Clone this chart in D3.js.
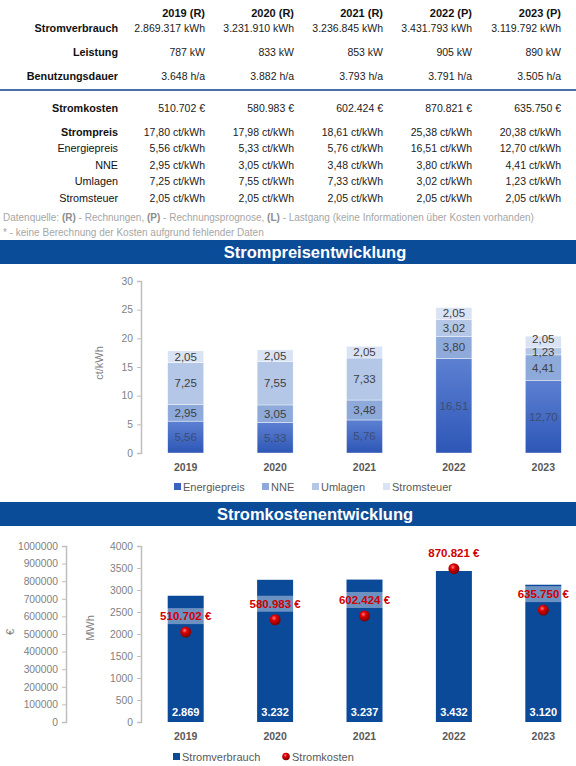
<!DOCTYPE html>
<html>
<head>
<meta charset="utf-8">
<script src="https://cdn.jsdelivr.net/npm/d3@7"></script>
<style>
  body { margin: 0; background: #fff; }
  svg { display: block; font-family: "Liberation Sans", Arial, sans-serif; }
</style>
</head>
<body>
<svg id="chart"></svg>
<script>
// years and data source flags
var years = ["2019", "2020", "2021", "2022", "2023"];
var yearFlags = ["R", "R", "R", "P", "P"];

// table values
var verbrauchKWh = [2869317, 3231910, 3236845, 3431793, 3119792];
var leistungKW = [787, 833, 853, 905, 890];
var benutzungsdauer = [3648, 3882, 3793, 3791, 3505];
var stromkosten = [510702, 580983, 602424, 870821, 635750];
var strompreis = [17.80, 17.98, 18.61, 25.38, 20.38];

// price components ct/kWh
var energiepreis = [5.56, 5.33, 5.76, 16.51, 12.70];
var nne = [2.95, 3.05, 3.48, 3.80, 4.41];
var umlagen = [7.25, 7.55, 7.33, 3.02, 1.23];
var stromsteuer = [2.05, 2.05, 2.05, 2.05, 2.05];

var priceKeys = ["Energiepreis", "NNE", "Umlagen", "Stromsteuer"];
var priceTicks = [0, 5, 10, 15, 20, 25, 30];
var euroTicks = [0, 100000, 200000, 300000, 400000, 500000, 600000, 700000, 800000, 900000, 1000000];
var mwhTicks = [0, 500, 1000, 1500, 2000, 2500, 3000, 3500, 4000];

var svgWidth = 576, svgHeight = 766;
var svg = d3.select("#chart").attr("width", svgWidth).attr("height", svgHeight);

// german number formats
var de = d3.formatLocale({decimal: ",", thousands: ".", grouping: [3], currency: ["", " €"]});
var fInt = de.format(",.0f");
var f2 = de.format(",.2f");

var grey = "#595959";

//---------------- table ----------------
var colX = d3.scalePoint().domain(years).range([205, 561]);
var labelX = 118;

svg.selectAll(".yearHead").data(years).enter().append("text")
    .attr("x", function(d) { return colX(d); })
    .attr("y", 17)
    .attr("text-anchor", "end")
    .attr("font-size", 11).attr("font-weight", "bold").attr("fill", "#111")
    .text(function(d, i) { return d + " (" + yearFlags[i] + ")"; });

var rows = [
  {label: "Stromverbrauch", bold: true, y: 32, values: verbrauchKWh, fmt: function(v) { return fInt(v) + " kWh"; }},
  {label: "Leistung", bold: true, y: 56, values: leistungKW, fmt: function(v) { return fInt(v) + " kW"; }},
  {label: "Benutzungsdauer", bold: true, y: 80, values: benutzungsdauer, fmt: function(v) { return fInt(v) + " h/a"; }},
  {label: "Stromkosten", bold: true, y: 112, values: stromkosten, fmt: function(v) { return fInt(v) + " €"; }},
  {label: "Strompreis", bold: true, y: 135.5, values: strompreis, fmt: function(v) { return f2(v) + " ct/kWh"; }},
  {label: "Energiepreis", bold: false, y: 152, values: energiepreis, fmt: function(v) { return f2(v) + " ct/kWh"; }},
  {label: "NNE", bold: false, y: 168.5, values: nne, fmt: function(v) { return f2(v) + " ct/kWh"; }},
  {label: "Umlagen", bold: false, y: 185, values: umlagen, fmt: function(v) { return f2(v) + " ct/kWh"; }},
  {label: "Stromsteuer", bold: false, y: 201.5, values: stromsteuer, fmt: function(v) { return f2(v) + " ct/kWh"; }}
];

rows.forEach(function(r) {
  svg.append("text")
      .attr("x", labelX).attr("y", r.y)
      .attr("text-anchor", "end")
      .attr("font-size", r.bold ? 10.8 : 10.8)
      .attr("font-weight", r.bold ? "bold" : "normal")
      .attr("fill", "#111")
      .text(r.label);
  svg.selectAll(null).data(r.values).enter().append("text")
      .attr("x", function(d, i) { return colX(years[i]); })
      .attr("y", r.y)
      .attr("text-anchor", "end")
      .attr("font-size", 10.5).attr("fill", "#222")
      .text(r.fmt);
});

// blue separator line
svg.append("line")
    .attr("x1", 0).attr("x2", svgWidth).attr("y1", 90).attr("y2", 90)
    .attr("stroke", "#4a6eab").attr("stroke-width", 2);

// footnotes
var note = svg.append("text").attr("x", 3).attr("y", 221).attr("font-size", 10).attr("fill", "#a6a6a6");
[["Datenquelle: ", false], ["(R)", true], [" - Rechnungen, ", false], ["(P)", true], [" - Rechnungsprognose, ", false],
 ["(L)", true], [" - Lastgang (keine Informationen über Kosten vorhanden)", false]].forEach(function(p) {
  note.append("tspan").attr("font-weight", p[1] ? "bold" : "normal").attr("fill", p[1] ? "#8c8c8c" : "#a6a6a6").text(p[0]);
});
svg.append("text").attr("x", 3).attr("y", 236).attr("font-size", 10).attr("fill", "#a6a6a6")
    .text("* - keine Berechnung der Kosten aufgrund fehlender Daten");

//---------------- banners ----------------
function banner(y, title) {
  svg.append("rect").attr("x", 0).attr("y", y).attr("width", svgWidth).attr("height", 24).attr("fill", "#0b4c99");
  svg.append("text").attr("x", 315).attr("y", y + 18)
      .attr("text-anchor", "middle").attr("font-size", 16.5).attr("font-weight", "bold").attr("fill", "#fff")
      .text(title);
}
banner(240, "Strompreisentwicklung");
banner(502, "Stromkostenentwicklung");

// shared band scale for both charts
var x = d3.scaleBand().domain(years).range([141, 588]);
var barW = 36;

function yAxis(g, scale, ticks, fmt) {
  g.call(d3.axisLeft(scale).tickValues(ticks).tickSize(4).tickPadding(4).tickFormat(fmt));
  g.select(".domain").attr("stroke", "#bfbfbf").attr("stroke-width", 1.5);
  g.selectAll(".tick line").attr("stroke", "#bfbfbf");
  g.selectAll(".tick text").attr("fill", "#7f7f7f").attr("font-size", 10.3).attr("font-family", "Liberation Sans");
}

//---------------- chart 1: price components ----------------
var y1 = d3.scaleLinear().domain([0, 30]).range([453, 281]);

svg.append("g").attr("transform", "translate(141,0)")
    .call(yAxis, y1, priceTicks, d3.format("d"));

svg.append("text")
    .attr("transform", "translate(103,363) rotate(-90)")
    .attr("text-anchor", "middle").attr("font-size", 11).attr("fill", "#7f7f7f")
    .text("ct/kWh");

var priceTable = years.map(function(y, i) {
  return {year: y, Energiepreis: energiepreis[i], NNE: nne[i], Umlagen: umlagen[i], Stromsteuer: stromsteuer[i]};
});
var stacked = d3.stack().keys(priceKeys)(priceTable);

var defs = svg.append("defs");
var grad = defs.append("linearGradient").attr("id", "energyGrad").attr("x1", 0).attr("x2", 0).attr("y1", 0).attr("y2", 1);
grad.append("stop").attr("offset", "0%").attr("stop-color", "#5d80d2");
grad.append("stop").attr("offset", "100%").attr("stop-color", "#2d56b6");

var priceColors = {Energiepreis: "url(#energyGrad)", NNE: "#8eaadb", Umlagen: "#b4c7e7", Stromsteuer: "#dae3f3"};
var legendColors = {Energiepreis: "#3a64c2", NNE: "#8eaadb", Umlagen: "#b4c7e7", Stromsteuer: "#dae3f3"};

var layers = svg.selectAll(".layer").data(stacked).enter().append("g");
layers.selectAll("rect").data(function(d) { return d; }).enter().append("rect")
    .attr("x", function(d) { return x(d.data.year) + x.bandwidth() / 2 - barW / 2; })
    .attr("width", barW)
    .attr("y", function(d) { return y1(d[1]); })
    .attr("height", function(d) { return y1(d[0]) - y1(d[1]); })
    .attr("fill", function(d) { return priceColors[d3.select(this.parentNode).datum().key]; })
    .attr("stroke", "#fff").attr("stroke-width", 0.4);

layers.each(function(layer) {
  d3.select(this).selectAll("text").data(layer).enter().append("text")
      .attr("x", function(d) { return x(d.data.year) + x.bandwidth() / 2; })
      .attr("y", function(d) {
        var cy = (y1(d[0]) + y1(d[1])) / 2;
        // tiny 2023 Umlagen / Stromsteuer slices: keep labels apart
        if (d.data.year === "2023" && layer.key === "Stromsteuer") cy -= 3;
        if (d.data.year === "2023" && layer.key === "Umlagen") cy += 1;
        return cy + 4;
      })
      .attr("text-anchor", "middle").attr("font-size", 11.5)
      .attr("fill", layer.key === "Energiepreis" ? "#3b4d73" : "#404040")
      .text(function(d) { return f2(d.data[layer.key]); });
});

svg.selectAll(".yr1").data(years).enter().append("text")
    .attr("x", function(d) { return x(d) + x.bandwidth() / 2; })
    .attr("y", 471)
    .attr("text-anchor", "middle").attr("font-size", 10.5).attr("font-weight", "bold").attr("fill", grey)
    .text(function(d) { return d; });

var legend1X = [174, 262, 312, 383];
var leg1 = svg.selectAll(".leg1").data(priceKeys).enter().append("g")
    .attr("transform", function(d, i) { return "translate(" + legend1X[i] + ",487)"; });
leg1.append("rect").attr("x", 0).attr("y", -4).attr("width", 7).attr("height", 7)
    .attr("fill", function(d) { return legendColors[d]; });
leg1.append("text").attr("x", 9).attr("y", 4).attr("font-size", 11).attr("fill", grey)
    .text(function(d) { return d; });

//---------------- chart 2: consumption + cost ----------------
var yEuro = d3.scaleLinear().domain([0, 1000000]).range([722, 546]);
var yMWh = d3.scaleLinear().domain([0, 4000]).range([722, 546]);

svg.append("g").attr("transform", "translate(66,0)")
    .call(yAxis, yEuro, euroTicks, d3.format("d"));
svg.append("g").attr("transform", "translate(141,0)")
    .call(yAxis, yMWh, mwhTicks, d3.format("d"));

svg.append("text").attr("transform", "translate(14,632) rotate(-90)")
    .attr("text-anchor", "middle").attr("font-size", 11).attr("fill", "#7f7f7f").text("€");
svg.append("text").attr("transform", "translate(94,628) rotate(-90)")
    .attr("text-anchor", "middle").attr("font-size", 11).attr("fill", "#7f7f7f").text("MWh");

var mwh = verbrauchKWh.map(function(v) { return v / 1000; });

svg.selectAll(".bar2").data(mwh).enter().append("rect")
    .attr("x", function(d, i) { return x(years[i]) + x.bandwidth() / 2 - barW / 2; })
    .attr("width", barW)
    .attr("y", function(d) { return yMWh(d); })
    .attr("height", function(d) { return yMWh(0) - yMWh(d); })
    .attr("fill", "#0b4a99");

svg.selectAll(".bar2lbl").data(mwh).enter().append("text")
    .attr("x", function(d, i) { return x(years[i]) + x.bandwidth() / 2; })
    .attr("y", 716)
    .attr("text-anchor", "middle").attr("font-size", 11).attr("font-weight", "bold").attr("fill", "#fff")
    .text(function(d) { return fInt(d); });

// red sphere gradient
var sphere = defs.append("radialGradient").attr("id", "sphere").attr("cx", "40%").attr("cy", "35%").attr("r", "65%");
sphere.append("stop").attr("offset", "0%").attr("stop-color", "#ff8080");
sphere.append("stop").attr("offset", "35%").attr("stop-color", "#e00000");
sphere.append("stop").attr("offset", "100%").attr("stop-color", "#7a0000");

// cost labels with translucent backing
var costLbl = svg.selectAll(".costLbl").data(stromkosten).enter().append("g")
    .attr("transform", function(d, i) { return "translate(" + (x(years[i]) + x.bandwidth() / 2) + "," + (yEuro(d) - 16) + ")"; });
costLbl.append("rect").attr("x", -27).attr("y", -8).attr("width", 54).attr("height", 16)
    .attr("fill", "#fff").attr("fill-opacity", 0.4);
costLbl.append("text").attr("y", 4).attr("text-anchor", "middle")
    .attr("font-size", 11.5).attr("font-weight", "bold").attr("fill", "#d00000")
    .text(function(d) { return fInt(d) + " €"; });

svg.selectAll(".costPt").data(stromkosten).enter().append("circle")
    .attr("cx", function(d, i) { return x(years[i]) + x.bandwidth() / 2; })
    .attr("cy", function(d) { return yEuro(d); })
    .attr("r", 5.5)
    .attr("fill", "url(#sphere)");

svg.selectAll(".yr2").data(years).enter().append("text")
    .attr("x", function(d) { return x(d) + x.bandwidth() / 2; })
    .attr("y", 740)
    .attr("text-anchor", "middle").attr("font-size", 10.5).attr("font-weight", "bold").attr("fill", grey)
    .text(function(d) { return d; });

// legend chart 2
svg.append("rect").attr("x", 173).attr("y", 753).attr("width", 7).attr("height", 7).attr("fill", "#0b4a99");
svg.append("text").attr("x", 182).attr("y", 760.5).attr("font-size", 11).attr("fill", grey).text("Stromverbrauch");
svg.append("circle").attr("cx", 286).attr("cy", 756.5).attr("r", 3.8).attr("fill", "url(#sphere)");
svg.append("text").attr("x", 292).attr("y", 760.5).attr("font-size", 11).attr("fill", grey).text("Stromkosten");
</script>
</body>
</html>
